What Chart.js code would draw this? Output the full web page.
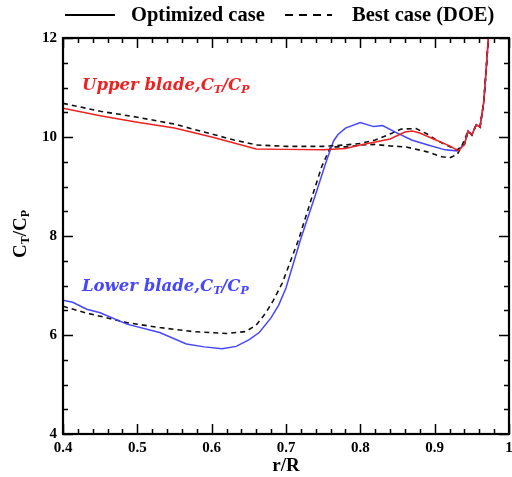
<!DOCTYPE html>
<html>
<head>
<meta charset="utf-8">
<script src="https://cdn.jsdelivr.net/npm/chart.js@4"></script>
<style>
  html, body { margin: 0; padding: 0; background: #fff; }
  #wrap { width: 512px; height: 477px; }
</style>
</head>
<body>
<div id="wrap"><canvas id="chart" width="512" height="477"></canvas></div>
<script>
// r/R stations and Ct/Cp values
const upperOptX = [0.40, 0.45, 0.50, 0.55, 0.60, 0.63, 0.66, 0.70, 0.75, 0.78, 0.80, 0.82, 0.84, 0.86, 0.87, 0.88, 0.90, 0.92, 0.932, 0.94, 0.945, 0.95, 0.956, 0.961, 0.966, 0.969, 0.972, 0.975];
const upperOptY = [10.58, 10.43, 10.30, 10.18, 10.00, 9.88, 9.76, 9.75, 9.74, 9.77, 9.84, 9.90, 9.96, 10.10, 10.12, 10.08, 9.95, 9.82, 9.72, 9.85, 10.12, 10.04, 10.25, 10.2, 10.7, 11.3, 11.95, 12.5];

const upperDoeX = [0.40, 0.45, 0.50, 0.55, 0.60, 0.63, 0.66, 0.70, 0.75, 0.78, 0.80, 0.82, 0.84, 0.855, 0.875, 0.89, 0.90, 0.915, 0.93, 0.94, 0.945, 0.95, 0.956, 0.961, 0.966, 0.969, 0.972, 0.975];
const upperDoeY = [10.68, 10.52, 10.40, 10.26, 10.06, 9.94, 9.84, 9.81, 9.81, 9.84, 9.87, 9.94, 10.06, 10.16, 10.17, 10.06, 9.96, 9.84, 9.74, 9.85, 10.12, 10.04, 10.25, 10.2, 10.7, 11.3, 11.95, 12.5];

const lowerOptX = [0.40, 0.413, 0.432, 0.45, 0.486, 0.53, 0.566, 0.59, 0.614, 0.633, 0.65, 0.664, 0.68, 0.69, 0.70, 0.72, 0.74, 0.754, 0.764, 0.77, 0.78, 0.80, 0.818, 0.83, 0.847, 0.869, 0.891, 0.914, 0.93, 0.94, 0.945, 0.95, 0.956, 0.961, 0.966, 0.969, 0.972, 0.975];
const lowerOptY = [6.70, 6.66, 6.52, 6.45, 6.22, 6.05, 5.82, 5.76, 5.72, 5.77, 5.90, 6.05, 6.35, 6.6, 6.95, 7.95, 8.85, 9.5, 9.92, 10.05, 10.18, 10.29, 10.21, 10.23, 10.10, 9.94, 9.84, 9.74, 9.72, 9.85, 10.12, 10.04, 10.25, 10.2, 10.7, 11.3, 11.95, 12.5];

const lowerDoeX = [0.40, 0.43, 0.486, 0.53, 0.574, 0.62, 0.646, 0.66, 0.673, 0.683, 0.695, 0.717, 0.735, 0.748, 0.76, 0.784, 0.80, 0.82, 0.84, 0.861, 0.89, 0.91, 0.92, 0.93, 0.936, 0.945, 0.95, 0.956, 0.961, 0.966, 0.969, 0.972, 0.975];
const lowerDoeY = [6.58, 6.45, 6.25, 6.15, 6.07, 6.03, 6.07, 6.2, 6.45, 6.7, 7.05, 7.93, 8.79, 9.4, 9.8, 9.8, 9.84, 9.85, 9.82, 9.8, 9.7, 9.6, 9.58, 9.64, 9.8, 10.12, 10.04, 10.25, 10.2, 10.7, 11.3, 11.95, 12.5];

const xTickLabels = ['0.4', '0.5', '0.6', '0.7', '0.8', '0.9', '1'];
const yTickLabels = ['4', '6', '8', '10', '12'];

function pts(xs, ys) {
  return xs.map((x, i) => ({ x: x, y: ys[i] }));
}

const RED = '#ee2222';
const BLUE = '#4646ff';
const SERIF = '"Liberation Serif", "Times New Roman", serif';

// rich text: array of [text, font, dy]
function drawRich(ctx, parts, x, y) {
  let cx = x;
  parts.forEach(p => {
    ctx.font = p[1];
    ctx.fillText(p[0], cx, y + (p[2] || 0));
    cx += ctx.measureText(p[0]).width;
  });
}

const decorations = {
  id: 'decorations',
  afterDatasetsDraw(chart) {
    const ctx = chart.ctx;
    const a = chart.chartArea;
    const xs = chart.scales.x, ys = chart.scales.y;
    ctx.save();
    ctx.strokeStyle = '#000';
    ctx.fillStyle = '#000';

    // ticks pointing inward
    ctx.lineWidth = 1.5;
    for (let v = 0.4; v <= 1.0001; v += 0.02) {
      const px = Math.round(xs.getPixelForValue(v)) + 0.5;
      const major = Math.abs(v * 10 - Math.round(v * 10)) < 1e-6;
      const len = major ? 10 : 5;
      ctx.beginPath();
      ctx.moveTo(px, a.bottom); ctx.lineTo(px, a.bottom - len);
      ctx.moveTo(px, a.top); ctx.lineTo(px, a.top + len);
      ctx.stroke();
    }
    for (let v = 4; v <= 12.0001; v += 0.5) {
      const py = Math.round(ys.getPixelForValue(v)) + 0.5;
      const major = Math.abs(v / 2 - Math.round(v / 2)) < 1e-6;
      const len = major ? 10 : 5;
      ctx.beginPath();
      ctx.moveTo(a.left, py); ctx.lineTo(a.left + len, py);
      ctx.moveTo(a.right, py); ctx.lineTo(a.right - len, py);
      ctx.stroke();
    }

    // frame
    ctx.lineWidth = 2.2;
    ctx.strokeRect(a.left, a.top, a.right - a.left, a.bottom - a.top);

    // tick labels
    ctx.font = 'bold 15px ' + SERIF;
    ctx.textAlign = 'center';
    ctx.textBaseline = 'middle';
    xTickLabels.forEach(t => {
      ctx.fillText(t, xs.getPixelForValue(parseFloat(t)), a.bottom + 14);
    });
    ctx.textAlign = 'right';
    yTickLabels.forEach(t => {
      ctx.fillText(t, a.left - 6, ys.getPixelForValue(parseFloat(t)));
    });

    // axis titles
    ctx.textAlign = 'center';
    ctx.font = 'bold 19px ' + SERIF;
    ctx.fillText('r/R', (a.left + a.right) / 2, 466);
    ctx.save();
    ctx.translate(21, 234);
    ctx.rotate(-Math.PI / 2);
    ctx.textAlign = 'left';
    const big = 'bold 19px ' + SERIF, small = 'bold 12px ' + SERIF;
    ctx.font = big;
    let w = ctx.measureText('C').width * 2 + ctx.measureText('/').width;
    ctx.font = small;
    w += ctx.measureText('T').width + ctx.measureText('P').width;
    drawRich(ctx, [['C', big], ['T', small, 5], ['/', big], ['C', big], ['P', small, 5]], -w / 2, 0);
    ctx.restore();

    // legend
    ctx.textAlign = 'left';
    ctx.font = 'bold 20.5px ' + SERIF;
    ctx.lineWidth = 2;
    ctx.beginPath(); ctx.moveTo(65, 15); ctx.lineTo(115, 15); ctx.stroke();
    ctx.fillText('Optimized case', 131, 16);
    ctx.setLineDash([8, 6]);
    ctx.beginPath(); ctx.moveTo(285, 15); ctx.lineTo(332, 15); ctx.stroke();
    ctx.setLineDash([]);
    ctx.fillText('Best case (DOE)', 352, 16);

    // annotations
    const it = 'italic bold 16.5px "DejaVu Serif", serif';
    const sub = 'italic bold 11px "DejaVu Serif", serif';
    ctx.fillStyle = RED;
    drawRich(ctx, [['Upper blade,', it], ['C', it], ['T', sub, 4], ['/', it], ['C', it], ['P', sub, 4]], 82, 86);
    ctx.fillStyle = BLUE;
    drawRich(ctx, [['Lower blade,', it], ['C', it], ['T', sub, 4], ['/', it], ['C', it], ['P', sub, 4]], 82, 287);
    ctx.restore();
  }
};

new Chart(document.getElementById('chart'), {
  type: 'line',
  data: {
    datasets: [{
      label: 'Optimized case (upper)',
      data: pts(upperOptX, upperOptY),
      borderColor: RED,
      borderWidth: 1.5,
    }, {
      label: 'Best case (DOE) (upper)',
      data: pts(upperDoeX, upperDoeY),
      borderColor: '#111',
      borderWidth: 1.6,
      borderDash: [5, 4],
    }, {
      label: 'Optimized case (lower)',
      data: pts(lowerOptX, lowerOptY),
      borderColor: BLUE,
      borderWidth: 1.5,
    }, {
      label: 'Best case (DOE) (lower)',
      data: pts(lowerDoeX, lowerDoeY),
      borderColor: '#111',
      borderWidth: 1.6,
      borderDash: [5, 4],
    }]
  },
  options: {
    responsive: false,
    animation: false,
    parsing: true,
    elements: {
      point: { radius: 0 },
      line: { tension: 0, fill: false },
    },
    layout: {
      padding: { left: 63, top: 38, right: 3, bottom: 43 }
    },
    plugins: {
      legend: { display: false },
      tooltip: { enabled: false },
    },
    scales: {
      x: {
        type: 'linear',
        display: false,
        min: 0.4,
        max: 1.0,
      },
      y: {
        type: 'linear',
        display: false,
        min: 4,
        max: 12,
      }
    }
  },
  plugins: [decorations],
});
</script>
</body>
</html>
